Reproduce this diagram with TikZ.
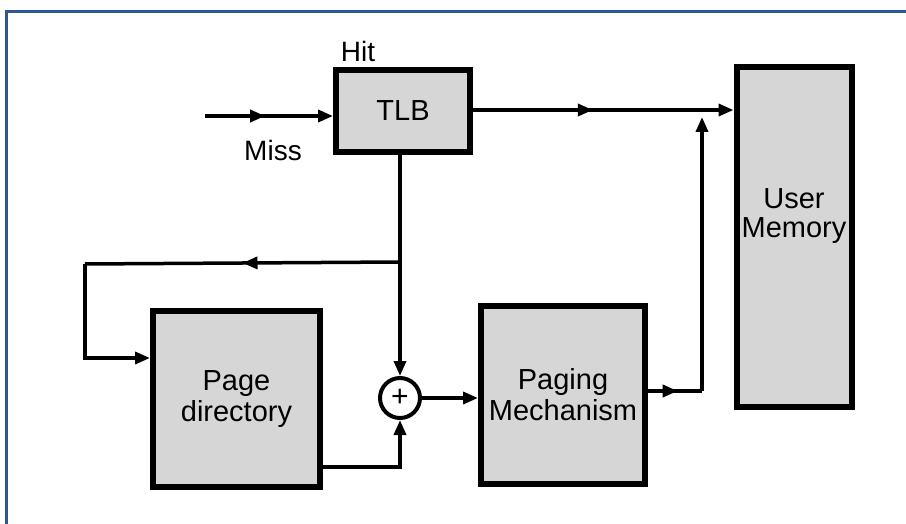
\documentclass[tikz,border=0pt]{standalone}
\usepackage{fontspec}
\setmainfont{Liberation Sans}
\usetikzlibrary{arrows.meta,decorations.markings}
\definecolor{framecol}{RGB}{47,85,151}
\begin{document}
\begin{tikzpicture}[x=1pt,y=-1pt,
  blk/.style={draw=black,line width=6pt,fill=gray!32,inner sep=0pt,align=center,
    font=\fontsize{29}{31}\selectfont},
  lbl/.style={font=\fontsize{28}{30}\selectfont,inner sep=0pt},
  con/.style={line width=3.5pt,line join=miter},
  tip/.style={-{Triangle[length=15pt,width=12pt]}},
  midarrow/.style={postaction={decorate},decoration={markings,
     mark=at position #1 with {\arrow{Triangle[length=15pt,width=12pt]}}}}
]
\useasboundingbox (0,0) rectangle (906,524);
\draw[framecol,line width=3pt] (6,524) -- (6,12) -- (906,12);

\node[blk,minimum width=134pt,minimum height=82pt] (tlb) at (403,111) {TLB};
\node[blk,minimum width=115pt,minimum height=340pt] (um) at (794,237)
  {\raisebox{14pt}[0pt][0pt]{\begin{tabular}{@{}c@{}}User\\[-2pt]Memory\end{tabular}}};
\node[blk,minimum width=167pt,minimum height=176pt] (pd) at (236.5,399) {Page\\directory};
\node[blk,minimum width=164pt,minimum height=178pt] (pm) at (563,395) {Paging\\Mechanism};
\node[draw=black,line width=4pt,circle,minimum size=40pt,inner sep=0pt,fill=white,
      font=\fontsize{30}{30}\selectfont] (plus) at (400,398) {+};

\node[lbl] (hit) at (358,51) {Hit};
\node[lbl] (miss) at (273,150) {Miss};

\coordinate (in) at (205,116);
\draw[con,tip,midarrow=0.47] (in) -- (tlb.west|-in);

\draw[con,tip,midarrow=0.46] (tlb.east|-0,110) -- (um.west|-0,110);

\coordinate (jn) at (702,391);
\coordinate (jt) at (702,117);
\draw[con,midarrow=0.55] (pm.east|-jn) -- (jn);
\draw[con,tip] (jn) -- (jt);

\coordinate (br) at (400,262);
\coordinate (lt) at (85,264);
\coordinate (lb) at (85,358);
\draw[con,tip] (tlb.south-|br) -- (plus.north);
\draw[con,midarrow=0.5] (br) -- (lt);
\draw[con,tip] (lt) -- (lb) -- (pd.west|-lb);

\coordinate (pr) at (400,467);
\draw[con,tip] (pd.east|-pr) -- (pr) -- (plus.south);
\draw[con,tip] (plus.east) -- (pm.west|-plus.east);
\end{tikzpicture}
\end{document}
